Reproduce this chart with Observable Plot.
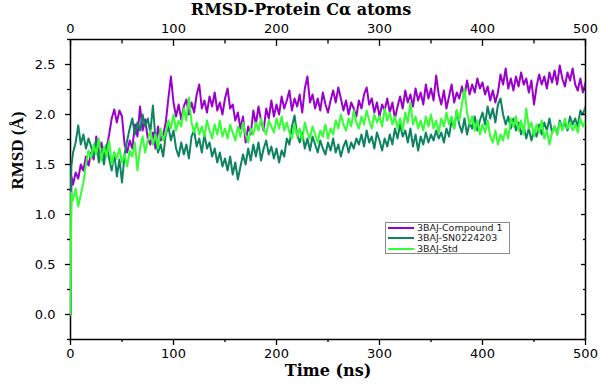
<!DOCTYPE html>
<html>
<head>
<meta charset="utf-8">
<script src="https://cdn.jsdelivr.net/npm/d3@7"></script>
<script src="https://cdn.jsdelivr.net/npm/@observablehq/plot@0.6"></script>
<style>
  html, body { margin: 0; padding: 0; background: #fff; }
  #wrap { position: relative; width: 600px; height: 388px; overflow: hidden; }
  #legend { position: absolute; left: 385px; top: 222px; width: 123px; height: 30px;
    border: 1px solid #8a8a8a; background: #fff; font-family: "DejaVu Sans", sans-serif; font-size: 9.5px; color: #222; }
  #legend .row { position: absolute; left: 0; height: 10px; line-height: 10px; white-space: nowrap; }
  #legend .row span.sw { position: absolute; left: 2px; top: 4px; width: 26px; height: 2px; }
  #legend .row span.tx { position: absolute; left: 31px; top: 0; }
</style>
</head>
<body>
<div id="wrap"></div>
<script>
// ---- data ----
const title = "RMSD-Protein Cα atoms";
const xLabel = "Time (ns)";
const yLabel = "RMSD (Å)";
const seriesNames = ["3BAJ-Compound 1", "3BAJ-SN0224203", "3BAJ-Std"];
const seriesColors = ["#9a00cc", "#0d8360", "#33ff33"];

const xMajorTicks = [0, 100, 200, 300, 400, 500];
const xMinorTicks = [50, 150, 250, 350, 450];
const yMajorTicks = [0, 0.5, 1.0, 1.5, 2.0, 2.5];
const yMinorTicks = [-0.25, 0.25, 0.75, 1.25, 1.75, 2.25, 2.75];

// sampling grid: start point at t=0 (value 0), then every 2.5 ns
const times = [0, 0.8].concat(d3.range(2.5, 500.001, 2.5));

const compound1 = [0,
1.38,1.30,1.42,1.36, 1.50,1.44,1.58,1.49, 1.62,1.55,1.78,1.60, 1.72,1.58,1.66,1.80,
1.96,2.05,1.92,2.04, 1.98,1.70,1.62,1.74, 1.66,1.90,1.78,2.08, 1.84,1.95,1.76,1.70,
1.82,1.66,1.88,1.74, 1.80,1.92,2.16,2.38, 2.12,1.98,2.10,1.95, 2.08,2.15,2.00,2.12,
2.02,2.20,2.30,2.06, 2.14,2.02,2.18,2.08, 2.22,2.04,2.12,2.00, 2.16,2.26,2.06,2.10,
1.94,2.02,1.86,1.98, 1.72,1.88,1.80,2.04, 1.90,2.08,1.94,1.84, 2.06,1.96,2.14,1.98,
2.10,2.00,2.18,2.06, 2.14,2.24,2.04,2.16, 2.08,2.20,2.02,2.26, 2.38,2.12,2.20,2.06,
2.16,2.04,2.22,2.10, 2.02,2.14,2.24,2.12, 2.27,2.16,2.04,2.14, 2.00,2.12,2.06,1.98,
2.14,2.06,2.20,2.27, 2.10,2.16,2.02,2.12, 1.98,2.10,2.04,2.16, 2.02,2.12,1.96,2.08,
2.18,2.06,2.24,2.12, 2.20,2.08,2.26,2.14, 2.22,2.10,2.30,2.16, 2.26,2.14,2.39,2.20,
2.10,2.24,2.06,2.18, 2.30,2.12,2.22,2.16, 2.28,2.18,2.34,2.20, 2.30,2.22,2.36,2.26,
2.32,2.20,2.28,2.14, 2.24,2.12,2.22,2.40, 2.30,2.46,2.26,2.36, 2.24,2.38,2.28,2.42,
2.30,2.36,2.22,2.34, 2.10,2.28,2.40,2.30, 2.38,2.26,2.42,2.32, 2.44,2.30,2.49,2.36,
2.28,2.42,2.34,2.46, 2.30,2.24,2.36,2.22, 2.32];

const sn0224203 = [0,
1.48,1.62,1.72,1.89, 1.70,1.80,1.66,1.76, 1.68,1.58,1.74,1.52, 1.64,1.50,1.70,1.56,
1.44,1.62,1.38,1.55, 1.32,1.60,1.74,1.86, 1.96,1.80,1.92,1.84, 2.00,1.88,1.96,1.82,
2.09,1.76,1.62,1.70, 1.58,1.80,1.88,1.74, 1.84,1.66,1.58,1.72, 1.60,1.70,1.56,1.78,
1.84,1.68,1.76,1.62, 1.80,1.66,1.72,1.58, 1.66,1.52,1.62,1.48, 1.56,1.44,1.58,1.40,
1.52,1.35,1.48,1.60, 1.50,1.66,1.54,1.70, 1.58,1.72,1.54,1.66, 1.74,1.60,1.68,1.56,
1.66,1.52,1.64,1.58, 1.76,1.70,1.88,1.99, 1.80,1.72,1.82,1.66, 1.76,1.64,1.78,1.70,
1.62,1.74,1.66,1.60, 1.72,1.64,1.76,1.62, 1.70,1.58,1.68,1.74, 1.62,1.72,1.66,1.76,
1.70,1.80,1.68,1.84, 1.72,1.78,1.66,1.82, 1.74,1.64,1.76,1.68, 1.80,1.70,1.86,1.76,
1.90,1.78,1.84,1.72, 1.86,1.68,1.80,1.64, 1.78,1.70,1.82,1.72, 1.80,1.74,1.84,1.76,
1.82,1.72,1.86,1.78, 1.94,1.86,2.04,1.90, 1.82,1.96,1.80,1.92, 1.86,1.98,1.84,1.94,
2.02,1.90,2.08,1.96, 2.06,1.92,2.10,2.16, 2.00,1.90,1.98,1.86, 1.96,1.84,1.92,1.80,
1.88,1.76,1.86,1.74, 1.84,1.78,1.90,1.80, 1.92,1.84,1.96,1.82, 1.88,1.80,1.94,1.86,
1.92,1.84,1.98,1.90, 1.96,1.88,2.04,2.00, 2.08];

const std = [0,
1.22,1.14,1.26,1.08, 1.20,1.32,1.50,1.64, 1.56,1.70,1.60,1.76, 1.54,1.68,1.58,1.74,
1.50,1.62,1.56,1.66, 1.52,1.60,1.48,1.64, 1.58,1.72,1.44,1.66, 1.78,1.62,1.74,1.84,
1.70,1.80,1.66,1.86, 1.74,1.82,1.94,1.86, 2.00,1.84,1.94,1.88, 2.06,1.94,2.17,1.92,
1.82,1.92,1.80,1.88, 1.78,1.94,1.84,1.76, 1.90,1.80,1.94,1.78, 1.86,1.76,1.90,1.82,
1.74,1.88,1.78,1.92, 1.80,1.72,1.86,1.80, 1.92,1.84,1.96,1.86, 1.80,1.94,1.88,1.82,
1.96,1.86,1.98,1.84, 1.92,1.82,1.76,1.90, 1.78,1.86,1.74,1.92, 1.82,1.76,1.88,1.80,
1.72,1.84,1.78,1.90, 1.76,1.86,1.80,1.94, 1.86,2.00,1.90,1.84, 1.96,1.88,2.04,1.92,
1.86,1.98,1.90,2.04, 1.94,1.86,2.00,1.92, 1.98,1.88,2.06,1.94, 2.02,1.90,1.98,1.86,
1.96,1.84,2.02,1.92, 2.12,1.90,1.98,1.86, 1.94,1.84,1.98,1.88, 2.00,1.86,1.94,1.82,
1.96,1.88,2.02,1.90, 1.98,1.86,2.04,1.94, 2.10,2.26,2.02,1.90, 1.98,1.84,1.94,1.80,
1.90,1.82,1.94,1.78, 1.72,1.84,1.70,1.80, 1.74,1.86,1.76,1.96, 1.88,1.98,1.84,1.94,
1.80,2.06,1.86,1.92, 1.78,1.90,1.82,1.94, 1.76,1.84,1.70,1.82, 1.88,1.80,1.92,1.84,
1.96,1.86,1.92,1.84, 1.90,1.82,1.96,1.88, 1.94];

const seriesValues = [compound1, sn0224203, std];

// ---- build ----
function table(vals) {
  const n = Math.min(vals.length, times.length);
  return d3.range(n).map(i => ({t: times[i], v: vals[i]}));
}

const tickFont = "DejaVu Sans, sans-serif";

const chart = Plot.plot({
  width: 600,
  height: 388,
  marginLeft: 70,
  marginRight: 15,
  marginTop: 39,
  marginBottom: 49,
  style: {background: "white", color: "black", fontFamily: tickFont, fontSize: "13px"},
  x: {domain: [0, 500]},
  y: {domain: [-0.25, 2.75]},
  marks: [
    Plot.frame({stroke: "black", strokeWidth: 1.5}),
    ...seriesValues.map((vals, i) =>
      Plot.line(table(vals), {x: "t", y: "v", stroke: seriesColors[i], strokeWidth: 2, strokeLinejoin: "round", clip: true})
    ),
    // bottom axis
    Plot.axisX({anchor: "bottom", ticks: xMajorTicks, tickSize: 6, tickPadding: 3, label: null, strokeWidth: 1.3}),
    Plot.axisX({anchor: "bottom", ticks: xMinorTicks, tickSize: 3, fill: "none", label: null, strokeWidth: 1.3}),
    // top axis (ticks inward)
    Plot.axisX({anchor: "top", ticks: xMajorTicks, tickSize: 0, tickPadding: 7, label: null}),
    Plot.axisX({anchor: "top", ticks: xMajorTicks, tickSize: -6, fill: "none", label: null, strokeWidth: 1.3}),
    Plot.axisX({anchor: "top", ticks: xMinorTicks, tickSize: -3.5, fill: "none", label: null, strokeWidth: 1.3}),
    // left axis
    Plot.axisY({anchor: "left", ticks: yMajorTicks, tickSize: 5, tickPadding: 10, tickFormat: d3.format(".1f"), label: null, strokeWidth: 1.3}),
    Plot.axisY({anchor: "left", ticks: yMinorTicks, tickSize: 3, fill: "none", label: null, strokeWidth: 1.3}),
    // right axis (ticks inward, no labels)
    Plot.axisY({anchor: "right", ticks: yMajorTicks, tickSize: -5, fill: "none", label: null, strokeWidth: 1.3}),
    Plot.axisY({anchor: "right", ticks: yMinorTicks, tickSize: -3, fill: "none", label: null, strokeWidth: 1.3}),
    // titles
    Plot.text([title], {frameAnchor: "top", lineAnchor: "middle", dy: -30, text: d => d, fontFamily: "DejaVu Serif, serif", fontWeight: "bold", fontSize: 16, dx: -27}),
    Plot.text([xLabel], {frameAnchor: "bottom", lineAnchor: "middle", dy: 31, text: d => d, fontFamily: "DejaVu Serif, serif", fontWeight: "bold", fontSize: 16}),
    Plot.text([yLabel], {frameAnchor: "left", dx: -53, rotate: -90, text: d => d, fontFamily: "Liberation Serif, serif", fontWeight: "bold", fontSize: 17})
  ]
});

const wrap = document.getElementById("wrap");
wrap.appendChild(chart);

// legend
const legend = document.createElement("div");
legend.id = "legend";
seriesNames.forEach((name, i) => {
  const row = document.createElement("div");
  row.className = "row";
  row.style.top = (0 + i * 10.3) + "px";
  const sw = document.createElement("span");
  sw.className = "sw";
  sw.style.background = seriesColors[i];
  const tx = document.createElement("span");
  tx.className = "tx";
  tx.textContent = name;
  row.appendChild(sw);
  row.appendChild(tx);
  legend.appendChild(row);
});
wrap.appendChild(legend);
</script>
</body>
</html>
